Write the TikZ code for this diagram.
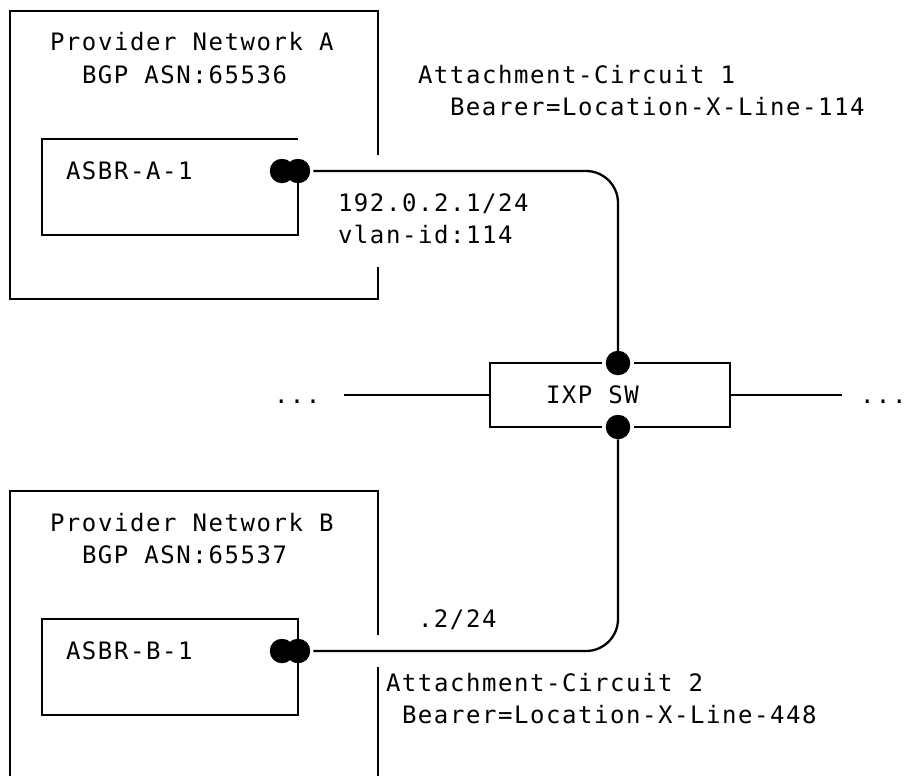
\documentclass[tikz,border=0pt]{standalone}
\usepackage{fontspec}
\newfontfamily\diagfont[LetterSpace=6.5]{DejaVu Sans Mono}
\usepackage{tikz}

\begin{document}
\begin{tikzpicture}[x=1pt,y=-1pt,line width=2.3pt,
    font=\diagfont\fontsize{24}{28}\selectfont,
    every node/.style={inner sep=0pt,outer sep=0pt},
    txt/.style={anchor=base west},
    port/.style={circle,fill=black,draw=none,minimum size=24.5pt},
    link/.style={rounded corners=32pt,shorten <=3pt}]
\useasboundingbox (0,0) rectangle (907,776);

% texts
\node[txt] (netA)    at (50,51)   {Provider Network A};
\node[txt] (asnA)    at (82,83)   {BGP ASN:65536};
\node[txt] (ac1)     at (418,83)  {Attachment-Circuit 1};
\node[txt] (bearer1) at (450,115) {Bearer=Location-X-Line-114};
\node[txt] (asbrA)   at (66,179)  {ASBR-A-1};
\node[txt] (ipA)     at (338,211) {192.0.2.1/24};
\node[txt] (vlanA)   at (338,243) {vlan-id:114};
\node[txt] (dotsL)   at (274,403) {...};
\node[txt] (ixpText) at (546,403) {IXP SW};
\node[txt] (dotsR)   at (860,403) {...};
\node[txt] (netB)    at (50,531)  {Provider Network B};
\node[txt] (asnB)    at (82,563)  {BGP ASN:65537};
\node[txt] (ipB)     at (418,627) {.2/24};
\node[txt] (asbrB)   at (66,659)  {ASBR-B-1};
\node[txt] (ac2)     at (386,691) {Attachment-Circuit 2};
\node[txt] (bearer2) at (402,723) {Bearer=Location-X-Line-448};

% boxes
\draw (378,155) -- (378,11) -- (10,11) -- (10,299) -- (378,299) -- (378,267);
\draw (298,139) -- (42,139) -- (42,235) -- (298,235) -- (298,171);
\draw (378,635) -- (378,491) -- (10,491) -- (10,776);
\draw (378,667) -- (378,776);
\draw (42,619) rectangle (298,715);

% ports
\node[port] (pA0) at (282,171) {};
\node[port] (pA)  at (298,171) {};
\node[port] (pB0) at (282,651) {};
\node[port] (pB)  at (298,651) {};
\node[port] (ixpN) at (618,363) {};
\node[port] (ixpS) at (618,427) {};

% IXP switch
\node[minimum width=240pt,minimum height=64pt] (ixp) at (610,395) {};
\draw ([xshift=-4pt]ixpN.west) -- (ixp.north west) -- (ixp.south west) -- ([xshift=-4pt]ixpS.west);
\draw ([xshift=4pt]ixpN.east) -- (ixp.north east) -- (ixp.south east) -- ([xshift=4pt]ixpS.east);

% links
\draw[link] (pA.east) -| (ixpN);
\draw[link] (pB.east) -| (ixpS);
\draw[shorten >=24pt] (ixp.west) -- (ixp.west -| dotsL.east);
\draw[shorten >=18pt] (ixp.east) -- (ixp.east -| dotsR.west);
\end{tikzpicture}
\end{document}
